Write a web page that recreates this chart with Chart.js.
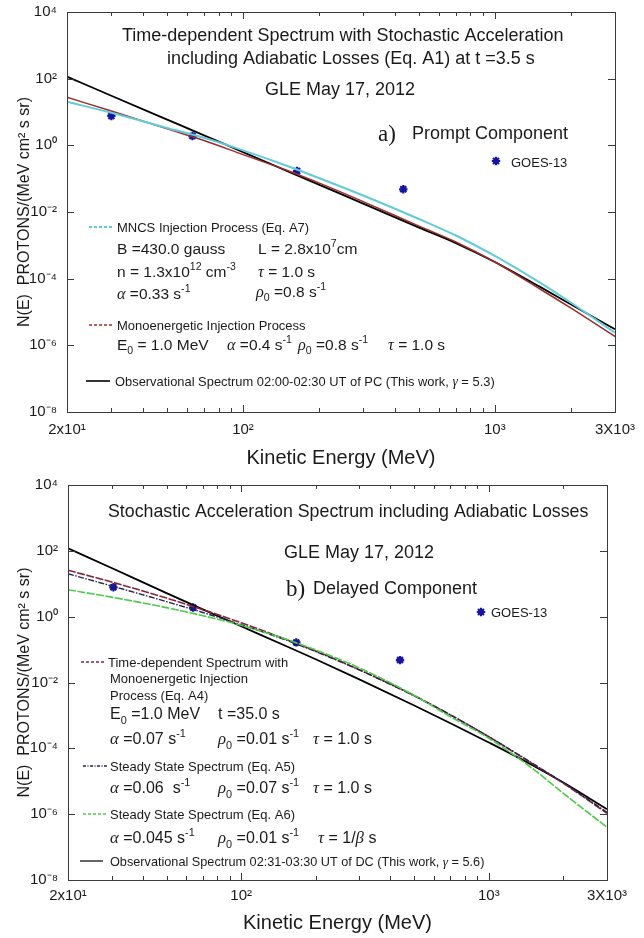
<!DOCTYPE html>
<html>
<head>
<meta charset="utf-8">
<script src="https://cdn.jsdelivr.net/npm/chart.js@4.4.1/dist/chart.umd.min.js"></script>
<style>
  body { margin: 0; background: #fff; }
  canvas { position: absolute; left: 0; }
</style>
</head>
<body>
<canvas id="chartA" width="644" height="475" style="top:0px"></canvas>
<canvas id="chartB" width="644" height="463" style="top:475px"></canvas>
<script>
const energi = [20, 30, 50, 70, 100, 150, 200, 300, 500, 700, 1000, 1500, 2000, 3000];

// a) Prompt component
const aMNCS = [20.4, 9.46, 3.33, 1.68, 0.705, 0.24, 0.105, 0.0313, 0.00617, 0.00197, 4.8e-4, 7.9e-5, 1.93e-5, 2.39e-6];
const aMono = [27.6, 10.7, 3.11, 1.39, 0.527, 0.176, 0.0746, 0.0205, 0.00378, 0.00126, 3.16e-4, 5.07e-5, 1.32e-5, 1.84e-6];
const aObs  = [114.6, 30.8, 5.92, 2.0, 0.627, 0.169, 0.0664, 0.0179, 0.0034, 0.00117, 3.16e-4, 5.86e-5, 1.71e-5, 3.03e-6];
const aGoesE = [30, 63, 164, 433];
const aGoesN = [7.6, 1.9, 0.17, 0.048];

// b) Delayed component
const bMono    = [25.7, 11.3, 3.67, 1.63, 0.653, 0.211, 0.0906, 0.0245, 0.0040, 0.00104, 2.25e-4, 3.4e-5, 8.7e-6, 1.06e-6];
const bSteady5 = [20.1, 8.57, 2.86, 1.34, 0.571, 0.20, 0.0875, 0.024, 0.00389, 0.00103, 2.25e-4, 3.52e-5, 9.0e-6, 1.14e-6];
const bSteady6 = [6.58, 3.92, 1.88, 1.07, 0.548, 0.213, 0.0973, 0.0278, 0.00406, 9.06e-4, 2.03e-4, 2.45e-5, 4.3e-6, 4.0e-7];
const bObs     = [120, 30, 5.21, 1.67, 0.51, 0.133, 0.0507, 0.0124, 0.0020, 5.8e-4, 1.51e-4, 3.08e-5, 9.1e-6, 1.41e-6];
const bGoesE = [30.5, 64, 167, 438];
const bGoesN = [7.8, 1.9, 0.165, 0.048];

// axis ticks
const xTicks = [20, 100, 1000, 3000];
const xTickLabels = ["2x10\u00b9", "10\u00b2", "10\u00b3", "3X10\u00b3"];
const xMinor = [30, 40, 50, 60, 70, 80, 90, 200, 300, 400, 500, 600, 700, 800, 900, 2000];
const yTicks = [1e4, 1e2, 1, 1e-2, 1e-4, 1e-6, 1e-8];
const yTickLabels = ["10\u2074", "10\u00b2", "10\u2070", "10\u207b\u00b2", "10\u207b\u2074", "10\u207b\u2076", "10\u207b\u2078"];

const SANS = '"Liberation Sans", Arial, sans-serif';
const SERIF = '"Liberation Serif", "Times New Roman", serif';
const TXT = '#1a1a1a';
const BLAA = '#1414a0';

const CYAN = '#62cbd9';
const ROED = '#9b2c2a';
const VIN = '#86263a';
const MARINE = '#23234f';
const GROENN = '#4fc94a';

// texts in the plots (page coordinates)
const tekster = {
  chartA: [
    {x: 122, y: 35, s: 18, t: "Time-dependent Spectrum with Stochastic Acceleration"},
    {x: 167, y: 58, s: 18, t: "including Adiabatic Losses (Eq. A1) at t =3.5 s"},
    {x: 265, y: 89, s: 18, t: "GLE May 17, 2012"},
    {x: 378, y: 133, s: 23, t: "a)", serif: true},
    {x: 412, y: 133, s: 18, t: "Prompt Component"},
    {x: 511, y: 162, s: 13, t: "GOES-13"},
    {x: 117, y: 227, s: 13, t: "MNCS Injection Process (Eq. A7)"},
    {x: 117, y: 248, s: 15.5, t: "B =430.0 gauss"},
    {x: 258, y: 248, s: 15.5, t: "L = 2.8x10^{7}cm"},
    {x: 117, y: 271, s: 15.5, t: "n = 1.3x10^{12} cm^{-3}"},
    {x: 258, y: 271, s: 15.5, t: "$\u03c4$ = 1.0 s"},
    {x: 117, y: 293, s: 15.5, t: "$\u03b1$ =0.33 s^{-1}"},
    {x: 256, y: 291, s: 15.5, t: "$\u03c1$_{0} =0.8 s^{-1}"},
    {x: 117, y: 325, s: 13, t: "Monoenergetic Injection Process"},
    {x: 117, y: 344, s: 15.5, t: "E_{0} = 1.0 MeV"},
    {x: 227, y: 344, s: 15.5, t: "$\u03b1$ =0.4 s^{-1}"},
    {x: 298, y: 344, s: 15.5, t: "$\u03c1$_{0} =0.8 s^{-1}"},
    {x: 388, y: 344, s: 15.5, t: "$\u03c4$ = 1.0 s"},
    {x: 115, y: 381, s: 12.9, t: "Observational Spectrum 02:00-02:30 UT of PC (This work, $\u03b3$ = 5.3)"}
  ],
  chartB: [
    {x: 108, y: 511, s: 17.8, t: "Stochastic Acceleration Spectrum including Adiabatic Losses"},
    {x: 284, y: 552, s: 18, t: "GLE May 17, 2012"},
    {x: 286, y: 588, s: 23, t: "b)", serif: true},
    {x: 313, y: 588, s: 18, t: "Delayed Component"},
    {x: 491, y: 612, s: 13, t: "GOES-13"},
    {x: 108, y: 662, s: 13, t: "Time-dependent Spectrum with"},
    {x: 110, y: 678, s: 13, t: "Monoenergetic Injection"},
    {x: 110, y: 695, s: 13, t: "Process (Eq. A4)"},
    {x: 110, y: 713, s: 16, t: "E_{0} =1.0 MeV"},
    {x: 218, y: 713, s: 16, t: "t =35.0 s"},
    {x: 110, y: 738, s: 16, t: "$\u03b1$ =0.07 s^{-1}"},
    {x: 218, y: 738, s: 16, t: "$\u03c1$_{0} =0.01 s^{-1}"},
    {x: 313, y: 738, s: 16, t: "$\u03c4$ = 1.0 s"},
    {x: 110, y: 766, s: 13, t: "Steady State Spectrum (Eq. A5)"},
    {x: 110, y: 787, s: 16, t: "$\u03b1$ =0.06  s^{-1}"},
    {x: 218, y: 787, s: 16, t: "$\u03c1$_{0} =0.07 s^{-1}"},
    {x: 313, y: 787, s: 16, t: "$\u03c4$ = 1.0 s"},
    {x: 110, y: 814, s: 13, t: "Steady State Spectrum (Eq. A6)"},
    {x: 110, y: 837, s: 16, t: "$\u03b1$ =0.045 s^{-1}"},
    {x: 218, y: 837, s: 16, t: "$\u03c1$_{0} =0.01 s^{-1}"},
    {x: 318, y: 837, s: 16, t: "$\u03c4$ = 1/$\u03b2$ s"},
    {x: 110, y: 861, s: 12.7, t: "Observational Spectrum 02:31-03:30 UT of DC (This work, $\u03b3$ = 5.6)"}
  ]
};

// legend line samples + GOES legend marker
const legendLinjer = {
  chartA: [
    {x1: 89, x2: 113, y: 227, c: CYAN, w: 2, d: [3, 2]},
    {x1: 89, x2: 113, y: 325, c: ROED, w: 1.6, d: [3, 2]},
    {x1: 86, x2: 110, y: 381, c: '#000', w: 1.6, d: []}
  ],
  chartB: [
    {x1: 81, x2: 106, y: 662, c: VIN, w: 1.6, d: [3, 2]},
    {x1: 83, x2: 107, y: 766, c: MARINE, w: 1.6, d: [3, 1.5, 1, 1.5]},
    {x1: 83, x2: 107, y: 814, c: GROENN, w: 1.6, d: [3, 2]},
    {x1: 80, x2: 103, y: 861, c: '#000', w: 1.2, d: []}
  ]
};
const goesMerke = { chartA: {x: 496, y: 161}, chartB: {x: 481, y: 612} };

function tegnTekst(ctx, x, y, str, size, serif) {
  const deler = str.split(/(\^\{[^}]*\}|_\{[^}]*\}|\$[^$]*\$)/).filter(s => s);
  const base = y + size * 0.36;
  let cx = x;
  ctx.textBaseline = 'alphabetic';
  ctx.textAlign = 'left';
  ctx.fillStyle = TXT;
  deler.forEach(d => {
    let t = d, dy = 0;
    if (d.startsWith('^{')) {
      t = d.slice(2, -1);
      ctx.font = (size * 0.68) + 'px ' + SANS;
      dy = -size * 0.42;
    } else if (d.startsWith('_{')) {
      t = d.slice(2, -1);
      ctx.font = (size * 0.68) + 'px ' + SANS;
      dy = size * 0.3;
    } else if (d.startsWith('$')) {
      t = d.slice(1, -1);
      ctx.font = 'italic ' + (size * 1.05) + 'px ' + SERIF;
    } else {
      ctx.font = size + 'px ' + (serif ? SERIF : SANS);
    }
    ctx.fillText(t, cx, base + dy);
    cx += ctx.measureText(t).width;
  });
}

function tegnStjerne(ctx, x, y, r) {
  ctx.save();
  ctx.strokeStyle = BLAA;
  ctx.lineWidth = 2.2;
  ctx.beginPath();
  for (let k = 0; k < 4; k++) {
    const v = k * Math.PI / 4;
    ctx.moveTo(x - r * Math.cos(v), y - r * Math.sin(v));
    ctx.lineTo(x + r * Math.cos(v), y + r * Math.sin(v));
  }
  ctx.stroke();
  ctx.restore();
}

// frame with inward ticks (MATLAB look), texts and legend
const rammePlugin = {
  id: 'ramme',
  afterDraw(chart) {
    const ctx = chart.ctx;
    const a = chart.chartArea;
    const xs = chart.scales.x;
    const ys = chart.scales.y;
    const id = chart.canvas.id;
    const dy = chart.canvas.offsetTop;

    ctx.save();
    ctx.strokeStyle = '#3a3a3a';
    ctx.lineWidth = 1;
    ctx.setLineDash([]);
    ctx.strokeRect(Math.round(a.left) + 0.5, Math.round(a.top) + 0.5,
                   Math.round(a.right - a.left), Math.round(a.bottom - a.top));
    ctx.beginPath();
    const strek = (x1, y1, x2, y2) => { ctx.moveTo(x1, y1); ctx.lineTo(x2, y2); };
    [100, 1000].forEach(v => {
      const px = Math.round(xs.getPixelForValue(v)) + 0.5;
      strek(px, a.bottom, px, a.bottom - 7);
      strek(px, a.top, px, a.top + 7);
    });
    xMinor.forEach(v => {
      const px = Math.round(xs.getPixelForValue(v)) + 0.5;
      strek(px, a.bottom, px, a.bottom - 4);
      strek(px, a.top, px, a.top + 4);
    });
    [1e2, 1, 1e-2, 1e-4, 1e-6].forEach(v => {
      const py = Math.round(ys.getPixelForValue(v)) + 0.5;
      strek(a.left, py, a.left + 7, py);
      strek(a.right, py, a.right - 7, py);
    });
    ctx.stroke();

    legendLinjer[id].forEach(l => {
      ctx.beginPath();
      ctx.strokeStyle = l.c;
      ctx.lineWidth = l.w;
      ctx.setLineDash(l.d);
      ctx.moveTo(l.x1, l.y - dy);
      ctx.lineTo(l.x2, l.y - dy);
      ctx.stroke();
    });
    ctx.setLineDash([]);
    const g = goesMerke[id];
    tegnStjerne(ctx, g.x, g.y - dy, 4.2);

    tekster[id].forEach(t => tegnTekst(ctx, t.x, t.y - dy, t.t, t.s, t.serif));
    ctx.restore();
  }
};

function kurve(label, verdier, farge, bredde, dash) {
  return {
    label: label,
    data: energi.map((e, i) => ({x: e, y: verdier[i]})),
    showLine: true,
    borderColor: farge,
    borderWidth: bredde,
    borderDash: dash || [],
    pointRadius: 0,
    fill: false,
    cubicInterpolationMode: 'monotone'
  };
}

function goes(eListe, nListe) {
  return {
    label: 'GOES-13',
    data: eListe.map((e, i) => ({x: e, y: nListe[i]})),
    showLine: false,
    pointStyle: 'star',
    pointRadius: 4.2,
    pointBorderWidth: 2.2,
    pointBorderColor: BLAA,
    pointBackgroundColor: BLAA
  };
}

// no extra room for overhanging tick labels, the plot box is fixed
function nullPadding(s) {
  s.paddingTop = 0;
  s.paddingBottom = 0;
  s.paddingLeft = 0;
  s.paddingRight = 0;
}

function lagChart(id, datasets, oppe, hoyre, xHoyde, yBredde, xPad, tittelPad) {
  return new Chart(document.getElementById(id), {
    type: 'scatter',
    data: { datasets: datasets },
    options: {
      responsive: false,
      animation: false,
      devicePixelRatio: 1,
      layout: { padding: { top: oppe, right: hoyre, left: 0, bottom: 0 } },
      plugins: { legend: { display: false }, tooltip: { enabled: false } },
      scales: {
        x: {
          type: 'logarithmic',
          min: 20, max: 3000,
          afterBuildTicks: s => { s.ticks = xTicks.map(v => ({value: v})); },
          afterFit: s => { s.height = xHoyde; nullPadding(s); },
          grid: { display: false, drawTicks: false },
          border: { display: false },
          ticks: {
            autoSkip: false, maxRotation: 0, padding: xPad, color: TXT,
            font: { family: SANS, size: 15 },
            callback: (v, i) => xTickLabels[i]
          },
          title: {
            display: true, text: 'Kinetic Energy (MeV)', color: TXT,
            font: { family: SANS, size: 20 }, padding: { top: 0, bottom: tittelPad }
          }
        },
        y: {
          type: 'logarithmic',
          min: 1e-8, max: 1e4,
          afterBuildTicks: s => { s.ticks = yTicks.map(v => ({value: v})); },
          afterFit: s => { s.width = yBredde; nullPadding(s); },
          grid: { display: false, drawTicks: false },
          border: { display: false },
          ticks: {
            autoSkip: false, padding: 10, color: TXT,
            font: { family: SANS, size: 15 },
            callback: (v, i) => yTickLabels[i]
          },
          title: {
            display: true, text: 'N(E)  PROTONS/(MeV cm\u00b2 s sr)', color: TXT,
            font: { family: SANS, size: 16 }, padding: { top: 15, bottom: 0 }
          }
        }
      }
    },
    plugins: [rammePlugin]
  });
}

lagChart('chartA', [
  kurve('MNCS Injection Process (Eq. A7)', aMNCS, CYAN, 2),
  kurve('Monoenergetic Injection Process', aMono, ROED, 1.5),
  kurve('Observational Spectrum 02:00-02:30 UT of PC', aObs, '#000', 1.8),
  goes(aGoesE, aGoesN)
], 12, 29, 63, 67, 9, 5);

lagChart('chartB', [
  kurve('Steady State Spectrum (Eq. A6)', bSteady6, GROENN, 1.6, [8, 1.5]),
  kurve('Steady State Spectrum (Eq. A5)', bSteady5, MARINE, 1.4, [6, 1.5, 1.5, 1.5]),
  kurve('Time-dependent Spectrum with Monoenergetic Injection Process (Eq. A4)', bMono, VIN, 1.6, [8, 1.5]),
  kurve('Observational Spectrum 02:31-03:30 UT of DC', bObs, '#000', 1.8),
  goes(bGoesE, bGoesN)
], 10, 37, 58, 68, 7, 3);
</script>
</body>
</html>
